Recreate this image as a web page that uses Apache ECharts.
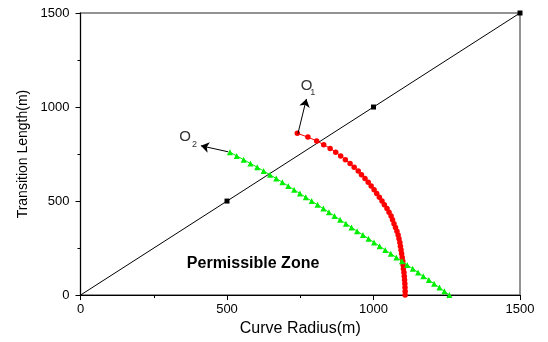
<!DOCTYPE html>
<html>
<head>
<meta charset="utf-8">
<script src="https://cdn.jsdelivr.net/npm/echarts@6/dist/echarts.min.js"></script>
<style>
  html, body { margin: 0; padding: 0; background: #fff; }
  #chart { width: 548px; height: 342px; }
</style>
</head>
<body>
<div id="chart"></div>
<script>
// diagonal reference line (L = R)
const diagX = [0, 500, 1000, 1500]
const diagY = [0, 500, 1000, 1500]

// O1 curve (red circles)
const o1Radius = [740, 776, 806, 830, 852, 871, 888, 904, 920, 934, 948, 959, 971, 982, 992,
  1002, 1011, 1020, 1029, 1037, 1046, 1053, 1060, 1065, 1070, 1075, 1080, 1084, 1087, 1090,
  1092, 1094, 1096, 1098, 1100, 1101, 1102, 1104, 1105, 1106, 1107, 1107.5, 1108, 1108]
const o1Length = [860, 840, 820, 800, 780, 760, 740, 720, 700, 680, 660, 640, 620, 600, 580,
  560, 540, 520, 500, 480, 460, 440, 420, 400, 380, 360, 340, 320, 300, 280,
  260, 240, 220, 200, 180, 160, 140, 120, 100, 80, 60, 40, 20, 0]

// O2 curve (green triangles)
const o2Radius = [510, 533, 557, 580, 603, 625, 647, 668, 689, 709, 729, 749, 769, 789, 809,
  829, 848, 867, 886, 906, 925, 944, 964, 983, 1002, 1021, 1040, 1059, 1078, 1097,
  1115, 1134, 1152, 1170, 1189, 1207, 1225, 1242, 1259]
const o2Length = [760, 740, 720, 700, 680, 660, 640, 620, 600, 580, 560, 540, 520, 500, 480,
  460, 440, 420, 400, 380, 360, 340, 320, 300, 280, 260, 240, 220, 200, 180,
  160, 140, 120, 100, 80, 60, 40, 20, 0]

// annotations, in data units
const arrowO1 = [[742, 858], [771, 1043]]
const arrowO2 = [[504, 762], [411, 794]]
const labelO1 = [772, 1112]
const subO1 = [793, 1079]
const labelO2 = [357, 841]
const subO2 = [389, 801]
const zoneText = [589, 170]

const pair = (xs, ys) => xs.map((x, i) => [x, ys[i]])

const chart = echarts.init(document.getElementById('chart'))

const font = 'Liberation Sans'

// main axes: black line, long ticks, labels every 500
const mainAxis = {
  type: 'value',
  min: 0,
  max: 1500,
  interval: 500,
  splitLine: { show: false },
  axisLine: { lineStyle: { color: '#000', width: 1 } },
  axisTick: { length: 5, lineStyle: { color: '#000' } },
  axisLabel: { color: '#000', fontSize: 13, fontFamily: font, formatter: v => String(v) },
  nameLocation: 'middle'
}

// helper axes: short ticks every 250, nothing else
const minorAxis = {
  type: 'value',
  min: 0,
  max: 1500,
  interval: 250,
  splitLine: { show: false },
  axisLine: { show: false },
  axisTick: { length: 3, lineStyle: { color: '#000' } },
  axisLabel: { show: false }
}

const textPoint = (coord, text, size, weight, color) => ({
  coord: coord,
  symbol: 'circle',
  symbolSize: 0,
  label: {
    show: true,
    position: 'inside',
    formatter: text,
    fontSize: size,
    fontWeight: weight,
    color: color,
    fontFamily: font
  }
})

chart.setOption({
  animation: false,
  backgroundColor: '#fff',
  grid: {
    left: 80.5,
    right: 28,
    top: 13,
    bottom: 44,
    show: true,
    borderColor: '#707070',
    borderWidth: 1.5
  },
  xAxis: [
    Object.assign({}, mainAxis, {
      name: 'Curve Radius(m)',
      nameGap: 21,
      nameTextStyle: { color: '#000', fontSize: 16, fontFamily: font },
      axisLabel: Object.assign({}, mainAxis.axisLabel, { margin: 8 })
    }),
    Object.assign({}, minorAxis, { position: 'bottom' })
  ],
  yAxis: [
    Object.assign({}, mainAxis, {
      name: 'Transition Length(m)',
      nameGap: 40,
      nameTextStyle: { color: '#000', fontSize: 14, fontFamily: font },
      axisLabel: Object.assign({}, mainAxis.axisLabel, { margin: 11 })
    }),
    Object.assign({}, minorAxis, { position: 'left' })
  ],
  series: [
    {
      type: 'line',
      data: pair(diagX, diagY),
      symbol: 'rect',
      symbolSize: (v, p) => (p.dataIndex === 0 ? 0 : 5),
      itemStyle: { color: '#000' },
      lineStyle: { color: '#000', width: 1 },
      z: 3,
      markLine: {
        silent: true,
        symbol: ['none', 'arrow'],
        symbolSize: 8,
        label: { show: false },
        lineStyle: { color: '#000', width: 1, type: 'solid' },
        data: [
          [{ coord: arrowO1[0] }, { coord: arrowO1[1] }],
          [{ coord: arrowO2[0] }, { coord: arrowO2[1] }]
        ]
      },
      markPoint: {
        silent: true,
        data: [
          textPoint(labelO1, 'O', 15, 'normal', '#333'),
          textPoint(subO1, '1', 9, 'normal', '#333'),
          textPoint(labelO2, 'O', 15, 'normal', '#333'),
          textPoint(subO2, '2', 9, 'normal', '#333'),
          textPoint(zoneText, 'Permissible Zone', 16, 'bold', '#000')
        ]
      }
    },
    {
      type: 'line',
      data: pair(o1Radius, o1Length),
      symbol: 'circle',
      symbolSize: 5.5,
      itemStyle: { color: '#ff0000' },
      lineStyle: { color: '#ff0000', width: 1 },
      z: 4
    },
    {
      type: 'line',
      data: pair(o2Radius, o2Length),
      symbol: 'triangle',
      symbolSize: 6,
      itemStyle: { color: '#00ee00' },
      lineStyle: { color: '#00ee00', width: 1 },
      z: 5
    }
  ]
})
</script>
</body>
</html>
